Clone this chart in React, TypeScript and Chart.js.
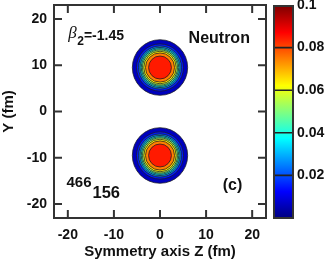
import React, { useEffect, useRef } from 'react';
import { Chart, registerables } from 'chart.js';

Chart.register(...registerables);

// ---- data ----
const zTicks = [-20, -10, 0, 10, 20];
const yTicks = [-20, -10, 0, 10, 20];
const colorbarTicks = [0.02, 0.04, 0.06, 0.08, 0.1];
const blobZ = [0, 0];
const blobY = [9.5, -9.5];
const contourLevels = [0.002, 0.01, 0.02, 0.03, 0.04, 0.05, 0.06, 0.07, 0.08];
const contourRadii = [6.0, 5.1, 4.65, 4.33, 4.06, 3.8, 3.52, 3.15, 2.48];
const peakDensity = 0.09;
const axisMin = -23;
const axisMax = 23;
const cMin = 0;
const cMax = 0.1;

const FONT = '"Liberation Sans", Arial, Helvetica, sans-serif';
const TEXT = '#111111';
const FRAME = '#333333';

function jetRGB(t: number): [number, number, number] {
  const c = (v: number) => Math.max(0, Math.min(1, v));
  const r = c(Math.min(4 * t - 1.5, -4 * t + 4.5));
  const g = c(Math.min(4 * t - 0.5, -4 * t + 3.5));
  const b = c(Math.min(4 * t + 0.5, -4 * t + 2.5));
  return [Math.round(r * 255), Math.round(g * 255), Math.round(b * 255)];
}
function jet(t: number) {
  const [r, g, b] = jetRGB(t);
  return `rgb(${r},${g},${b})`;
}

const contourPlugin = {
  id: 'contours',
  beforeDatasetsDraw(chart: any) {
    const { ctx, chartArea: a } = chart;
    const xs = chart.scales.x;
    const ys = chart.scales.y;
    ctx.save();
    ctx.beginPath();
    ctx.rect(a.left, a.top, a.right - a.left, a.bottom - a.top);
    ctx.clip();
    for (let i = 0; i < blobZ.length; i++) {
      const cx = xs.getPixelForValue(blobZ[i]);
      const cy = ys.getPixelForValue(blobY[i]);
      for (let k = 0; k < contourLevels.length; k++) {
        const r = contourRadii[k];
        const rx = xs.getPixelForValue(blobZ[i] + r) - cx;
        const ry = cy - ys.getPixelForValue(blobY[i] + r);
        const next = k + 1 < contourLevels.length ? contourLevels[k + 1] : peakDensity;
        const mid = (contourLevels[k] + next) / 2;
        ctx.beginPath();
        ctx.ellipse(cx, cy, rx, ry, 0, 0, Math.PI * 2);
        ctx.fillStyle = jet((mid - cMin) / (cMax - cMin));
        ctx.fill();
        ctx.lineWidth = 0.9;
        ctx.strokeStyle = 'rgba(30,30,30,0.85)';
        ctx.stroke();
      }
    }
    ctx.restore();
  },
};

const framePlugin = {
  id: 'frameAndLabels',
  afterDraw(chart: any) {
    const { ctx, chartArea: a } = chart;
    const xs = chart.scales.x;
    const ys = chart.scales.y;
    const cb = chart.scales.cb;
    ctx.save();
    // frame
    ctx.strokeStyle = FRAME;
    ctx.lineWidth = 2;
    ctx.strokeRect(a.left, a.top, a.right - a.left, a.bottom - a.top);
    const tl = 8;
    ctx.beginPath();
    zTicks.forEach((v) => {
      const px = xs.getPixelForValue(v);
      ctx.moveTo(px, a.bottom);
      ctx.lineTo(px, a.bottom - tl);
      ctx.moveTo(px, a.top);
      ctx.lineTo(px, a.top + tl);
    });
    yTicks.forEach((v) => {
      const py = ys.getPixelForValue(v);
      ctx.moveTo(a.left, py);
      ctx.lineTo(a.left + tl, py);
      ctx.moveTo(a.right, py);
      ctx.lineTo(a.right - tl, py);
    });
    ctx.stroke();

    // colorbar
    const bx = a.right + 8;
    const bw = 19;
    const top = cb.getPixelForValue(cMax) + 1;
    const bottom = cb.getPixelForValue(cMin);
    const grad = ctx.createLinearGradient(0, bottom, 0, top);
    for (let s = 0; s <= 32; s++) {
      grad.addColorStop(s / 32, jet(s / 32));
    }
    ctx.fillStyle = grad;
    ctx.fillRect(bx, top, bw, bottom - top);
    ctx.lineWidth = 1.6;
    ctx.strokeStyle = '#222';
    ctx.beginPath();
    colorbarTicks.forEach((v) => {
      if (v >= cMax) return;
      const py = cb.getPixelForValue(v);
      ctx.moveTo(bx, py);
      ctx.lineTo(bx + bw, py);
    });
    ctx.stroke();
    ctx.lineWidth = 2;
    ctx.strokeStyle = FRAME;
    ctx.strokeRect(bx, top, bw, bottom - top);

    // annotations
    ctx.fillStyle = TEXT;
    ctx.textBaseline = 'alphabetic';
    ctx.textAlign = 'left';
    const ax = (v: number) => xs.getPixelForValue(v);
    const ay = (v: number) => ys.getPixelForValue(v);
    // beta_2 = -1.45
    ctx.font = `italic 17px "Liberation Serif", "DejaVu Serif", serif`;
    const bX = ax(-19.9);
    const bY = ay(15.9);
    ctx.fillText('β', bX, bY);
    const bW = ctx.measureText('β').width;
    ctx.font = `bold 12px ${FONT}`;
    ctx.fillText('2', bX + bW + 0.5, bY + 7);
    const sW = ctx.measureText('2').width;
    ctx.font = `bold 14px ${FONT}`;
    ctx.fillText('=-1.45', bX + bW + sW + 0.5, bY + 2);
    // Neutron
    ctx.font = `bold 16px ${FONT}`;
    ctx.fillText('Neutron', ax(6.2), ay(14.7));
    // 466 156
    ctx.font = `bold 15px ${FONT}`;
    ctx.fillText('466', ax(-20.3), ay(-16.3));
    const w466 = ctx.measureText('466').width;
    ctx.font = `bold 16.5px ${FONT}`;
    ctx.fillText('156', ax(-20.3) + w466 + 1, ay(-18.7));
    // (c)
    ctx.font = `bold 16px ${FONT}`;
    ctx.fillText('(c)', ax(13.6), ay(-17));
    ctx.restore();
  },
};

export default function App() {
  const ref = useRef<HTMLCanvasElement | null>(null);
  useEffect(() => {
    document.body.style.margin = '0';
    const canvas = ref.current;
    if (!canvas) return;
    const zeroPad = (s: any) => {
      s.paddingTop = 0;
      s.paddingBottom = 0;
      s.paddingLeft = 0;
      s.paddingRight = 0;
    };
    const chart = new Chart(canvas, {
      type: 'scatter',
      data: {
        datasets: [
          {
            data: blobZ.map((z, i) => ({ x: z, y: blobY[i] })),
            pointRadius: 0,
            showLine: false,
          },
        ],
      },
      options: {
        animation: false,
        responsive: false,
        devicePixelRatio: 1,
        layout: { padding: { top: 5, left: 0, right: 0, bottom: 0 } },
        plugins: { legend: { display: false }, tooltip: { enabled: false } },
        scales: {
          x: {
            type: 'linear',
            min: axisMin,
            max: axisMax,
            afterBuildTicks: (s: any) => {
              s.ticks = zTicks.map((v) => ({ value: v }));
            },
            afterFit: (s: any) => {
              s.height = 43;
              zeroPad(s);
            },
            grid: { display: false, drawTicks: false },
            border: { display: false },
            ticks: {
              autoSkip: false,
              maxRotation: 0,
              padding: 9,
              color: TEXT,
              font: { family: FONT, size: 14, weight: 'bold' },
              callback: (v: any) => String(v),
            },
            title: {
              display: true,
              text: 'Symmetry axis Z (fm)',
              color: TEXT,
              font: { family: FONT, size: 15, weight: 'bold' },
              padding: 0,
            },
          },
          y: {
            type: 'linear',
            min: axisMin,
            max: axisMax,
            afterBuildTicks: (s: any) => {
              s.ticks = yTicks.map((v) => ({ value: v }));
            },
            afterFit: (s: any) => {
              s.width = 54;
              zeroPad(s);
            },
            grid: { display: false, drawTicks: false },
            border: { display: false },
            ticks: {
              autoSkip: false,
              padding: 7,
              color: TEXT,
              font: { family: FONT, size: 14, weight: 'bold' },
              callback: (v: any) => String(v),
            },
            title: {
              display: true,
              text: 'Y (fm)',
              color: TEXT,
              font: { family: FONT, size: 15, weight: 'bold' },
              padding: 0,
            },
          },
          cb: {
            type: 'linear',
            position: 'right',
            min: cMin,
            max: cMax,
            afterBuildTicks: (s: any) => {
              s.ticks = colorbarTicks.map((v) => ({ value: v }));
            },
            afterFit: (s: any) => {
              s.width = 67;
              zeroPad(s);
            },
            grid: { display: false, drawTicks: false },
            border: { display: false },
            ticks: {
              autoSkip: false,
              padding: 31,
              color: TEXT,
              font: { family: FONT, size: 14, weight: 'bold' },
              callback: (v: any) => String(v),
            },
          },
        },
      } as any,
      plugins: [contourPlugin, framePlugin],
    });
    return () => chart.destroy();
  }, []);
  return (
    <canvas
      ref={ref}
      width={333}
      height={261}
      style={{ display: 'block', width: 333, height: 261 }}
    />
  );
}
